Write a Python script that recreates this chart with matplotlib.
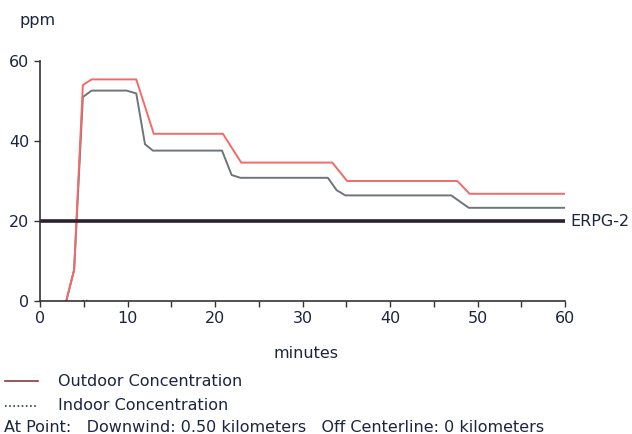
import matplotlib
matplotlib.use("Agg")
import matplotlib.pyplot as plt

# outdoor concentration (red) and the second outdoor trace (gray), minutes vs ppm
red_t = [3.0, 3.9, 4.9, 5.9, 11.0, 13.0, 20.9, 23.0, 33.4, 35.1, 47.7, 49.1, 60.0]
red_c = [0.0, 7.8, 54.0, 55.4, 55.4, 41.8, 41.8, 34.6, 34.6, 30.0, 30.0, 26.8, 26.8]

gray_t = [3.0, 3.9, 4.9, 5.9, 9.9, 11.0, 12.0, 12.9, 20.8, 21.9, 22.9, 32.9, 33.9, 34.9, 47.0, 49.0, 60.0]
gray_c = [0.0, 7.8, 51.0, 52.6, 52.6, 51.9, 39.2, 37.6, 37.6, 31.5, 30.8, 30.8, 27.7, 26.4, 26.4, 23.3, 23.3]

indoor_t = [4.8, 5.5]
indoor_c = [0.3, 0.3]

erpg2 = 20
xticks = [0, 10, 20, 30, 40, 50, 60]
xminor = [5, 15, 25, 35, 45, 55]
yticks = [0, 20, 40, 60]

TXT = "#1c2440"
FS = 11.5
fig = plt.figure(figsize=(6.32, 4.34), dpi=100)
ax = fig.add_axes([40/632, 1 - 301/434, 525/632, 240/434])

ax.plot(gray_t, gray_c, color="#6f7479", lw=1.4)
ax.plot(red_t, red_c, color="#f36a6a", lw=1.4)
ax.plot(indoor_t, indoor_c, color="#3a4a7a", lw=1.0, ls=(0, (1, 1.5)))
ax.axhline(erpg2, color="#2b2030", lw=2.6)
ax.text(60.6, erpg2, "ERPG-2", color=TXT, fontsize=FS, va="center", ha="left")

ax.set_xlim(0, 60)
ax.set_ylim(0, 60)
ax.set_xticks(xticks)
ax.set_xticks(xminor, minor=True)
ax.set_yticks(yticks)
for s in ("top", "right"):
    ax.spines[s].set_visible(False)
for s in ("left", "bottom"):
    ax.spines[s].set_color("#333333")
    ax.spines[s].set_linewidth(1.2)
ax.tick_params(colors="#333333", labelcolor=TXT, labelsize=FS, length=4, width=1)
ax.tick_params(axis="x", which="minor", colors="#333333", length=4, width=1)

fig.text(38/632, 1 - 21/434, "ppm", color=TXT, fontsize=FS, ha="center", va="center")
fig.text(306/632, 1 - 354/434, "minutes", color=TXT, fontsize=FS, ha="center", va="center")

# legend block below the chart
fig.add_artist(plt.Line2D([5/632, 38/632], [1 - 381/434] * 2, color="#8b3a3a", lw=1.2))
fig.text(58/632, 1 - 381/434, "Outdoor Concentration", color=TXT, fontsize=FS, va="center")
fig.add_artist(plt.Line2D([5/632, 38/632], [1 - 406/434] * 2, color="#2a3570", lw=1.2,
                          ls=(0, (1, 1.5))))
fig.text(58/632, 1 - 405/434, "Indoor Concentration", color=TXT, fontsize=FS, va="center")
fig.text(4/632, 1 - 427/434,
         "At Point:   Downwind: 0.50 kilometers   Off Centerline: 0 kilometers",
         color=TXT, fontsize=FS, va="center")

fig.savefig("out.png", dpi=100)
